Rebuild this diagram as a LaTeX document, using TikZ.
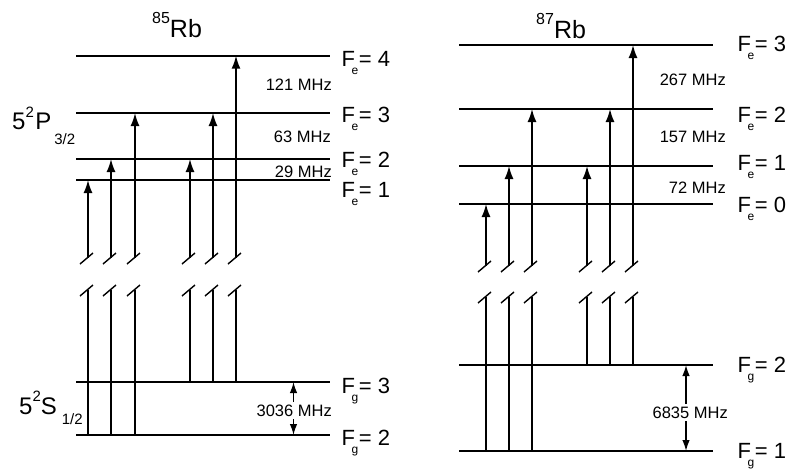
\documentclass[tikz,border=0pt]{standalone}
\usepackage{fontspec}
\setmainfont{Liberation Sans}
\usetikzlibrary{arrows.meta}
\newcommand{\levlab}[2]{F\kern-3.5pt\raisebox{-8pt}{\fontsize{12}{12}\selectfont #1}\kern0.5pt= #2}
\begin{document}
\begin{tikzpicture}[x=1pt,y=-1pt,
  level/.style={line width=1.8pt},
  trans/.style={line width=1.6pt},
  uparrow/.style={trans,-{Latex[length=13pt,width=9pt]}},
  brk/.style={line width=1.4pt},
  gaparrow/.style={line width=1.5pt,-{Latex[length=11pt,width=7.5pt]}},
  lab/.style={inner sep=0pt,anchor=base west,font=\fontsize{22}{22}\selectfont},
  mhz/.style={inner sep=0pt,anchor=east,font=\fontsize{16.5}{16.5}\selectfont},
  title/.style={inner sep=0pt,anchor=base west,font=\fontsize{25}{25}\selectfont},
  term/.style={inner sep=0pt,anchor=base west,font=\fontsize{24}{24}\selectfont},
]
\useasboundingbox (0,0) rectangle (789,469);

% ---------- 85Rb levels ----------
\foreach \n/\y in {A4/55.7, A3/113, A2/159, A1/180, AG3/382, AG2/435}{
  \coordinate (\n-l) at (76,\y);
  \coordinate (\n-r) at (330,\y);
  \draw[level] (\n-l) -- (\n-r);
}
% ---------- 87Rb levels ----------
\foreach \n/\y in {B3/45, B2/109, B1/166, B0/204, BG2/365, BG1/451}{
  \coordinate (\n-l) at (459,\y);
  \coordinate (\n-r) at (713,\y);
  \draw[level] (\n-l) -- (\n-r);
}

% ---------- transitions ----------
\foreach \n/\x/\yb/\yt/\jl/\ju in {
  a1/88/435/180/290/258, a2/111/435/159/290/258, a3/135/435/113/290/258,
  a4/190/382/159/290/258, a5/213/382/113/290/258, a6/236/382/55.7/290/258,
  b1/486/451/204/297/266, b2/509/451/166/297/266, b3/532/451/109/297/266,
  b4/587/365/166/297/266, b5/610/365/109/297/266, b6/633/365/45/297/266}{
  \coordinate (\n-b) at (\x,\yb);
  \coordinate (\n-l) at (\x,\jl);
  \coordinate (\n-u) at (\x,\ju);
  \coordinate (\n-t) at (\x,\yt);
  \draw[trans] (\n-b) -- (\n-l);
  \draw[brk] ([shift={(-8,6)}]\n-l) -- ([shift={(5,-5)}]\n-l);
  \draw[uparrow] (\n-u) -- (\n-t);
  \draw[brk] ([shift={(-8,6)}]\n-u) -- ([shift={(5,-5)}]\n-u);
}

% ---------- ground splittings ----------
\coordinate (g1a) at (293.5,382); \coordinate (g1b) at (293.5,402);
\coordinate (g1c) at (293.5,419); \coordinate (g1d) at (293.5,435);
\draw[gaparrow] (g1b) -- (g1a);
\draw[gaparrow] (g1c) -- (g1d);
\coordinate (g2a) at (686,365); \coordinate (g2b) at (686,404);
\coordinate (g2c) at (686,421); \coordinate (g2d) at (686,451);
\draw[gaparrow] (g2b) -- (g2a);
\draw[gaparrow] (g2c) -- (g2d);

% ---------- frequency labels ----------
\node[mhz] (m121) at (332,85) {121 MHz};
\node[mhz] (m63) at (331,137) {63 MHz};
\node[mhz] (m29) at (332,172) {29 MHz};
\node[mhz] (m3036) at (332,411) {3036 MHz};
\node[mhz] (m267) at (726,80) {267 MHz};
\node[mhz] (m157) at (726,137) {157 MHz};
\node[mhz] (m72) at (726,188) {72 MHz};
\node[mhz] (m6835) at (728,413) {6835 MHz};

% ---------- level labels ----------
\node[lab] (lA4) at (341.5,66) {\levlab{e}{4}};
\node[lab] (lA3) at (341.5,122) {\levlab{e}{3}};
\node[lab] (lA2) at (341.5,167) {\levlab{e}{2}};
\node[lab] (lA1) at (341.5,197) {\levlab{e}{1}};
\node[lab] (lAG3) at (341.5,393) {\levlab{g}{3}};
\node[lab] (lAG2) at (341.5,445) {\levlab{g}{2}};
\node[lab] (lB3) at (737.5,51) {\levlab{e}{3}};
\node[lab] (lB2) at (737.5,122) {\levlab{e}{2}};
\node[lab] (lB1) at (737.5,170) {\levlab{e}{1}};
\node[lab] (lB0) at (737.5,212) {\levlab{e}{0}};
\node[lab] (lBG2) at (737.5,372) {\levlab{g}{2}};
\node[lab] (lBG1) at (737.5,458) {\levlab{g}{1}};

% ---------- titles ----------
\node[title] (t85) at (152,37) {\raisebox{14pt}{\fontsize{16}{16}\selectfont 85}Rb};
\node[title] (t87) at (536,38) {\raisebox{14pt}{\fontsize{16}{16}\selectfont 87}Rb};

% ---------- term symbols ----------
\node[term] (tP) at (12,129) {5\raisebox{12pt}{\fontsize{15}{15}\selectfont 2}\kern1.5pt P\kern3pt\raisebox{-15pt}{\fontsize{15}{15}\selectfont 3/2}};
\node[term] (tS) at (19,414) {5\raisebox{13pt}{\fontsize{15}{15}\selectfont 2}S\kern5pt\raisebox{-10pt}{\fontsize{15}{15}\selectfont 1/2}};
\end{tikzpicture}
\end{document}
